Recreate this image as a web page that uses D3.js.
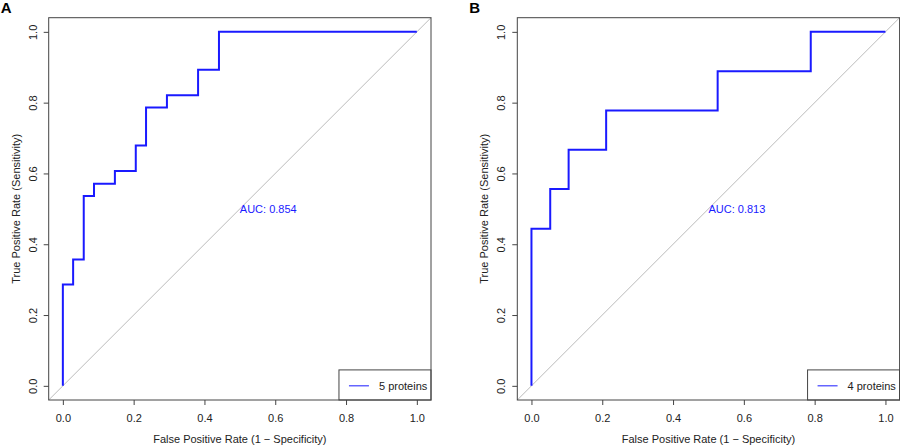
<!DOCTYPE html>
<html><head><meta charset="utf-8">
<script src="https://cdn.jsdelivr.net/npm/d3@7"></script>
<style>body{margin:0;background:#fff}text{font-family:"Liberation Sans",Arial,sans-serif}</style>
</head><body><svg id="c" width="900" height="447"></svg>
<script>
// ROC corners (fpr, tpr)
const fprA = [0, 0, 0.029, 0.059, 0.088, 0.147, 0.206, 0.235, 0.294, 0.382, 0.441, 1]
const tprA = [0, 0.286, 0.357, 0.536, 0.571, 0.607, 0.679, 0.786, 0.821, 0.893, 1, 1]
const fprB = [0, 0, 0.053, 0.105, 0.211, 0.526, 0.789, 1]
const tprB = [0, 0.444, 0.556, 0.667, 0.778, 0.889, 1, 1]
const ticks = [0, 0.2, 0.4, 0.6, 0.8, 1.0]

const panels = [
    {label: 'A', left: 48.7, fpr: fprA, tpr: tprA, auc: 'AUC: 0.854', legend: '5 proteins'},
    {label: 'B', left: 517.3, fpr: fprB, tpr: tprB, auc: 'AUC: 0.813', legend: '4 proteins'}
]
const svg = d3.select('#c')
const W = 382.3, boxTop = 17.7, H = 382.3

panels.forEach(p => {
    const g = svg.append('g')
    const x = d3.scaleLinear().domain([-0.04, 1.04]).range([p.left, p.left + W])
    const y = d3.scaleLinear().domain([-0.04, 1.04]).range([boxTop + H, boxTop])

    g.append('text').attr('x', p.left - 48).attr('y', 13)
        .attr('font-weight', 'bold').attr('font-size', 15).text(p.label)

    // diagonal
    g.append('line')
        .attr('x1', x(-0.04)).attr('y1', y(-0.04)).attr('x2', x(1.04)).attr('y2', y(1.04))
        .attr('stroke', '#aaa').attr('stroke-width', 0.8)

    const pts = p.fpr.map((f, i) => [f, p.tpr[i]])
    g.append('path')
        .attr('d', d3.line().x(d => x(d[0])).y(d => y(d[1])).curve(d3.curveStepAfter)(pts))
        .attr('fill', 'none').attr('stroke', '#1a1aff').attr('stroke-width', 2)

    g.append('text').attr('x', x(0.5)).attr('y', y(0.5) + 4)
        .attr('fill', '#1a1aff').attr('font-size', 11).text(p.auc)

    // legend
    const lx = x(0.78)
    g.append('rect').attr('x', lx).attr('y', y(0.045)).attr('width', x(1.04) - lx)
        .attr('height', y(-0.04) - y(0.045)).attr('fill', '#fff').attr('stroke', '#444')
    g.append('line').attr('x1', lx + 10).attr('x2', lx + 30).attr('y1', y(0)).attr('y2', y(0))
        .attr('stroke', '#1a1aff')
    g.append('text').attr('x', lx + 40).attr('y', y(0) + 4).attr('font-size', 11)
        .attr('fill', '#222').text(p.legend)

    g.append('rect').attr('x', p.left).attr('y', boxTop).attr('width', W).attr('height', H)
        .attr('fill', 'none').attr('stroke', '#444')

    const xa = g.append('g').attr('transform', `translate(0,${boxTop + H})`)
        .call(d3.axisBottom(x).tickValues(ticks).tickFormat(d3.format('.1f')).tickSizeOuter(0).tickSize(5))
    const ya = g.append('g').attr('transform', `translate(${p.left},0)`)
        .call(d3.axisLeft(y).tickValues(ticks).tickFormat(d3.format('.1f')).tickSizeOuter(0).tickSize(5))
    ;[xa, ya].forEach(a => {
        a.select('.domain').remove()
        a.selectAll('line').attr('stroke', '#444')
        a.selectAll('text').attr('font-size', 11).attr('fill', '#222')
            .style('font-family', '"Liberation Sans",Arial,sans-serif')
    })
    xa.selectAll('text').attr('dy', '1.3em')
    // rotated y tick labels, R style
    ya.selectAll('.tick text').attr('transform', 'rotate(-90)').attr('x', 0).attr('y', -12)
        .attr('dy', 0).attr('text-anchor', 'middle')

    g.append('text').attr('x', x(0.5)).attr('y', 443).attr('text-anchor', 'middle')
        .attr('font-size', 11).attr('fill', '#222').text('False Positive Rate (1 \u2212  Specificity)')
    g.append('text').attr('transform', `translate(${p.left - 33},${y(0.5)}) rotate(-90)`)
        .attr('text-anchor', 'middle').attr('dy', '0.35em')
        .attr('font-size', 11).attr('fill', '#222').text('True Positive Rate (Sensitivity)')
})
</script></body></html>
